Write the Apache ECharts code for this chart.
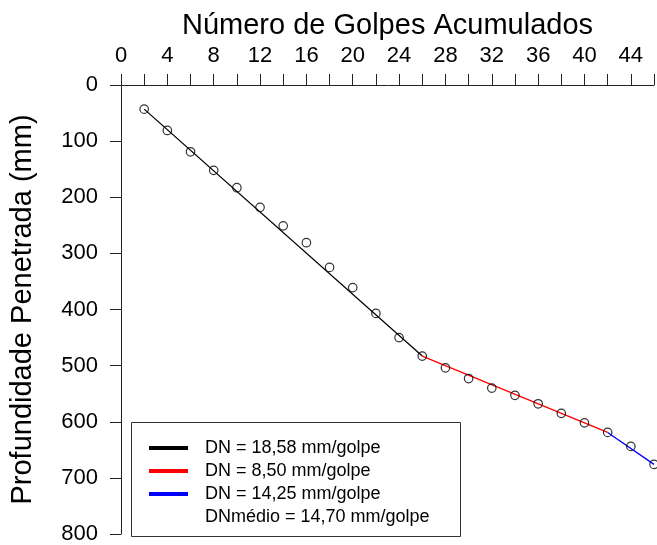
<!DOCTYPE html>
<html>
<head>
<meta charset="utf-8">
<script src="https://cdn.jsdelivr.net/npm/echarts@6/dist/echarts.min.js"></script>
<style>
html,body{margin:0;padding:0;background:#fff;}
#chart{width:657px;height:545px;}
</style>
</head>
<body>
<div id="chart"></div>
<script>
// Data
const golpes = [2,4,6,8,10,12,14,16,18,20,22,24,26,28,30,32,34,36,38,40,42,44,46];
const profundidade = [43,81,119,152,183,218,251,281,325,361,407,450,483,504,523,540,553,568,585,602,619,644,676];
const blackLine = [[2,43],[26,483]];
const redLine = [[26,483],[42,619]];
const blueLine = [[42,619],[46,676]];
const legendNames = ['DN = 18,58 mm/golpe','DN = 8,50 mm/golpe','DN = 14,25 mm/golpe','DNmédio = 14,70 mm/golpe'];
const xTitle = 'Número de Golpes Acumulados';
const yTitle = 'Profundidade Penetrada (mm)';

const FONT = '"Liberation Sans", Arial, Helvetica, sans-serif';
const chart = echarts.init(document.getElementById('chart'), null, {renderer:'canvas'});

const points = golpes.map((g,i)=>[g, profundidade[i]]);

chart.setOption({
  animation:false,
  backgroundColor:'#fff',
  textStyle:{fontFamily:FONT},
  grid:{left:120,right:0,top:85,bottom:11,containLabel:false},
  xAxis:{
    type:'value', position:'top', min:0, max:46, interval:2,
    name:xTitle, nameLocation:'middle', nameGap:45,
    nameTextStyle:{fontSize:29,color:'#000',fontFamily:FONT},
    axisLine:{show:true,lineStyle:{color:'#222',width:1}},
    axisTick:{show:true,inside:false,length:11,lineStyle:{color:'#222',width:1}},
    axisLabel:{fontSize:22,color:'#000',margin:18,fontFamily:FONT,
      formatter:v=> (v%4===0 && v<46) ? String(v) : ''},
    splitLine:{show:false}
  },
  yAxis:{
    type:'value', inverse:true, min:0, max:800, interval:100,
    name:yTitle, nameLocation:'middle', nameGap:84, nameRotate:90,
    nameTextStyle:{fontSize:29,color:'#000',fontFamily:FONT},
    axisLine:{show:true,lineStyle:{color:'#222',width:1}},
    axisTick:{show:true,inside:false,length:11,lineStyle:{color:'#222',width:1}},
    axisLabel:{fontSize:22,color:'#000',margin:23,fontFamily:FONT},
    splitLine:{show:false}
  },
  legend:{
    show:true, orient:'vertical', left:149, top:439, padding:0,
    itemWidth:39, itemHeight:4, itemGap:5, icon:'rect',
    selectedMode:false,
    textStyle:{fontSize:18,color:'#000',fontFamily:FONT,lineHeight:18,padding:[0,0,0,12]},
    data:legendNames
  },
  graphic:[{
    type:'rect', z:-1, zlevel:0,
    shape:{x:131.5,y:422.5,width:329,height:114},
    style:{fill:'#fff',stroke:'#333',lineWidth:1}
  }],
  series:[
    {name:legendNames[0], type:'line', data:blackLine, showSymbol:false, symbol:'none',
      color:'#000', lineStyle:{color:'#000',width:1.3}, z:2},
    {name:legendNames[1], type:'line', data:redLine, showSymbol:false, symbol:'none',
      color:'#ff0000', lineStyle:{color:'#ff0000',width:1.3}, z:2},
    {name:legendNames[2], type:'line', data:blueLine, showSymbol:false, symbol:'none',
      color:'#0000ff', lineStyle:{color:'#0000ff',width:1.3}, z:2},
    {name:legendNames[3], type:'line', data:[], showSymbol:false, symbol:'none',
      color:'rgba(0,0,0,0)', lineStyle:{color:'rgba(0,0,0,0)'}},
    {name:'pontos', type:'scatter', data:points, symbol:'circle', symbolSize:8.5,
      itemStyle:{color:'rgba(255,255,255,0)',borderColor:'#000',borderWidth:1.2}, z:3}
  ]
});
</script>
</body>
</html>
